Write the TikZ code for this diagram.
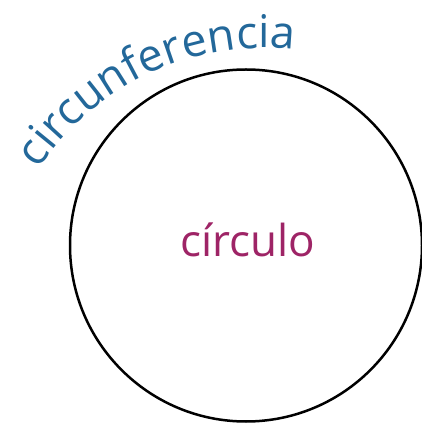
\documentclass[tikz,border=0pt]{standalone}
\usepackage{fontspec}
\setmainfont{Open Sans}
\usetikzlibrary{decorations.text}
\definecolor{arcblue}{HTML}{23689A}
\definecolor{magent}{HTML}{9E2466}
\begin{document}
\begin{tikzpicture}[x=1pt,y=1pt]
\useasboundingbox (0,0) rectangle (422,423);
\node[circle,draw=black,line width=2.5pt,minimum size=352pt,inner sep=0pt] (circ) at (246,177.5) {};
\node[anchor=base,text=magent,font=\fontsize{44}{46}\selectfont] (lbl) at (248,166) {círculo};
\coordinate (tc) at (264,105);
\path[decorate,decoration={text along path,text align=center,
  text={|\fontsize{45}{48}\selectfont\color{arcblue}|circunferencia}}]
  ([shift={(151:270)}]tc) arc[start angle=151,end angle=79,radius=270];
\end{tikzpicture}
\end{document}
